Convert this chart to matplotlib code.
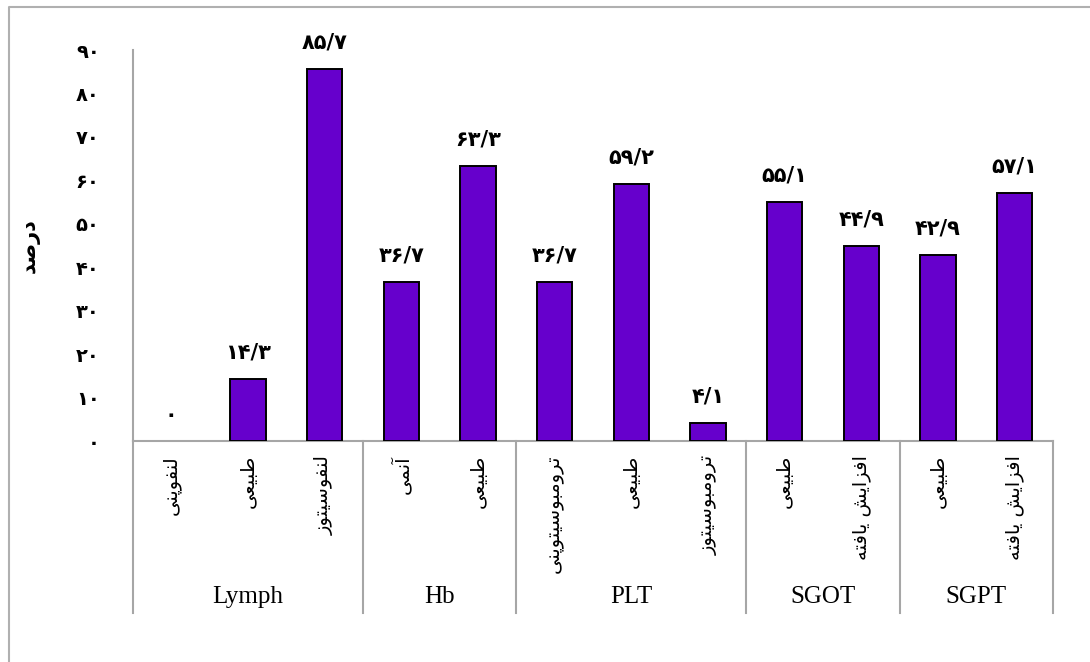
import numpy as np
import matplotlib.pyplot as plt
from matplotlib.transforms import blended_transform_factory
from matplotlib.lines import Line2D

# Data
groups = ['Lymph', 'Hb', 'PLT', 'SGOT', 'SGPT']
group_sizes = [3, 2, 3, 2, 2]
categories = ['لنفوپنی', 'طبیعی', 'لنفوسیتوز',
              'آنمی', 'طبیعی',
              'ترومبوسیتوپنی', 'طبیعی', 'ترومبوسیتوز',
              'طبیعی', 'افزایش یافته',
              'طبیعی', 'افزایش یافته']
values = [0, 14.3, 85.7, 36.7, 63.3, 36.7, 59.2, 4.1, 55.1, 44.9, 42.9, 57.1]
yticks = [0, 10, 20, 30, 40, 50, 60, 70, 80, 90]
ylabel = 'درصد'

# matplotlib does no Arabic shaping, so pick presentation forms by hand
# (isolated, final, initial, medial)
FORMS = {
    'ا': ('\uFE8D', '\uFE8E', None, None),
    'آ': ('\uFE81', '\uFE82', None, None),
    'ب': ('\uFE8F', '\uFE90', '\uFE91', '\uFE92'),
    'پ': ('\uFB56', '\uFB57', '\uFB58', '\uFB59'),
    'ت': ('\uFE95', '\uFE96', '\uFE97', '\uFE98'),
    'د': ('\uFEA9', '\uFEAA', None, None),
    'ر': ('\uFEAD', '\uFEAE', None, None),
    'ز': ('\uFEAF', '\uFEB0', None, None),
    'س': ('\uFEB1', '\uFEB2', '\uFEB3', '\uFEB4'),
    'ش': ('\uFEB5', '\uFEB6', '\uFEB7', '\uFEB8'),
    'ص': ('\uFEB9', '\uFEBA', '\uFEBB', '\uFEBC'),
    'ط': ('\uFEC1', '\uFEC2', '\uFEC3', '\uFEC4'),
    'ع': ('\uFEC9', '\uFECA', '\uFECB', '\uFECC'),
    'ف': ('\uFED1', '\uFED2', '\uFED3', '\uFED4'),
    'ل': ('\uFEDD', '\uFEDE', '\uFEDF', '\uFEE0'),
    'م': ('\uFEE1', '\uFEE2', '\uFEE3', '\uFEE4'),
    'ن': ('\uFEE5', '\uFEE6', '\uFEE7', '\uFEE8'),
    'ه': ('\uFEE9', '\uFEEA', '\uFEEB', '\uFEEC'),
    'و': ('\uFEED', '\uFEEE', None, None),
    'ی': ('\uFBFC', '\uFBFD', '\uFBFE', '\uFBFF'),
}


def shape(word):
    out = []
    for i, c in enumerate(word):
        if c not in FORMS:
            out.append(c)
            continue
        iso, fin, ini, med = FORMS[c]
        prev = word[i - 1] if i > 0 else None
        nxt = word[i + 1] if i + 1 < len(word) else None
        jp = prev in FORMS and FORMS[prev][2] is not None
        jn = nxt in FORMS and ini is not None
        if jp and jn:
            out.append(med)
        elif jp:
            out.append(fin)
        elif jn:
            out.append(ini)
        else:
            out.append(iso)
    return ''.join(reversed(out))


def fa_num(v):
    s = f"{v:g}".replace('.', '/')
    return s.translate(str.maketrans('0123456789', '۰۱۲۳۴۵۶۷۸۹'))


fa_font = 'DejaVu Sans'
gray = '#a6a6a6'

fig = plt.figure(figsize=(10.9, 6.62), dpi=100)
ax = fig.add_axes([0.122, 0.3338, 0.844, 0.5906])

x = np.arange(len(values))
edge_w = [1.4 if v > 0 else 0 for v in values]
ax.bar(x, values, width=0.46, color='#6600cc', edgecolor='black', linewidth=edge_w, zorder=3)
for xi, v in zip(x, values):
    ax.annotate(fa_num(v), (xi, v), xytext=(0, 19), textcoords='offset points',
                ha='center', va='center', fontsize=15, fontweight='bold', family=fa_font)

ax.set_xlim(-0.5, len(values) - 0.5)
ax.set_ylim(0, 90)
ax.set_yticks(yticks, [fa_num(t) for t in yticks], family=fa_font, fontsize=14, fontweight='bold')
ax.set_xticks(x, [shape(c) for c in categories], rotation=90, family=fa_font, fontsize=14)
ax.tick_params(axis='y', length=0, pad=24)
ax.tick_params(axis='x', length=0, pad=10)
ax.set_ylabel(shape(ylabel), family=fa_font, fontsize=15, fontweight='bold')
ax.yaxis.set_label_coords(-0.101, 0.5)

for side in ['top', 'right']:
    ax.spines[side].set_visible(False)
for side in ['left', 'bottom']:
    ax.spines[side].set_color(gray)
    ax.spines[side].set_linewidth(1.5)

# group separators and group names below the category labels
trans = blended_transform_factory(ax.transData, ax.transAxes)
edges = np.concatenate([[0], np.cumsum(group_sizes)]) - 0.5
for e in edges:
    ax.plot([e, e], [0, -0.44], transform=trans, color=gray, lw=1.5, clip_on=False)
for name, a, b in zip(groups, edges[:-1], edges[1:]):
    ax.text((a + b) / 2, -0.399, name, transform=trans, ha='center', va='center',
            family='Liberation Serif', fontsize=18)

# outer chart frame (left and top edges are visible)
fig.add_artist(Line2D([0.00826, 0.00826, 1.0], [0.0, 0.9887, 0.9887],
                      transform=fig.transFigure, color='#b0b0b0', lw=1.5))

fig.savefig('out.png', dpi=100)
